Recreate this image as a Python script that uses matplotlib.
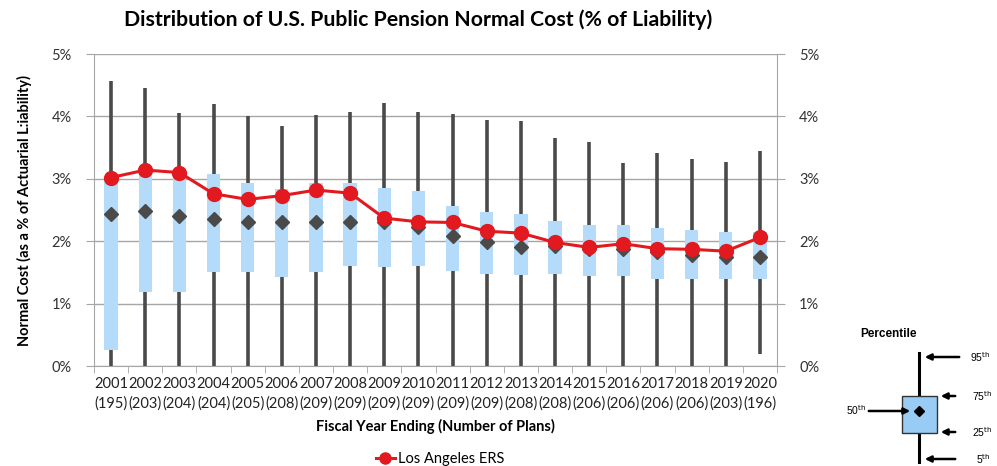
import matplotlib
matplotlib.use("Agg")
import matplotlib.pyplot as plt
from matplotlib.patches import Rectangle
from matplotlib.ticker import FuncFormatter, MultipleLocator

plt.rcParams['font.family'] = ['Lato', 'DejaVu Sans']

years = [str(y) for y in range(2001, 2021)]
n_plans = [195, 203, 204, 204, 205, 208, 209, 209, 209, 209,
           209, 209, 208, 208, 206, 206, 206, 206, 203, 196]

# percentiles, % of liability
p5 = [0.0] * 19 + [0.20]
p25 = [0.26, 1.18, 1.19, 1.51, 1.51, 1.43, 1.50, 1.60, 1.59, 1.60,
       1.53, 1.47, 1.46, 1.48, 1.45, 1.45, 1.39, 1.39, 1.39, 1.39]
p50 = [2.44, 2.49, 2.41, 2.35, 2.31, 2.31, 2.30, 2.30, 2.31, 2.23,
       2.08, 1.98, 1.91, 1.93, 1.88, 1.87, 1.83, 1.78, 1.75, 1.74]
p75 = [3.01, 3.10, 3.06, 3.08, 2.94, 2.84, 2.94, 2.93, 2.85, 2.81,
       2.56, 2.46, 2.43, 2.33, 2.26, 2.26, 2.21, 2.18, 2.15, 2.15]
p95 = [4.57, 4.46, 4.06, 4.20, 4.00, 3.84, 4.03, 4.07, 4.21, 4.07,
       4.04, 3.95, 3.92, 3.65, 3.59, 3.26, 3.41, 3.32, 3.27, 3.45]
la_ers = [3.02, 3.14, 3.10, 2.76, 2.67, 2.73, 2.82, 2.77, 2.37, 2.31,
          2.30, 2.16, 2.13, 1.98, 1.90, 1.96, 1.88, 1.87, 1.84, 2.06]

x = list(range(len(years)))
tick_labels = [f"{y}\n({n})" for y, n in zip(years, n_plans)]

fig = plt.figure(figsize=(9.97, 4.66), dpi=100)
ax = fig.add_axes([94 / 997, 1 - 366 / 466, 683 / 997, 312 / 466])

grid_c = '#a6a6a6'
ax.vlines(x, p5, p95, color='#4a4a4a', linewidth=2.6, zorder=2)
box_heights = [hi - lo for lo, hi in zip(p25, p75)]
ax.bar(x, box_heights, bottom=p25, width=0.39, color='#b4dcfa', zorder=3)
ax.plot(x, p50, linestyle='none', marker='D', markersize=7.5,
        color='#4a4a4a', zorder=4)
ax.plot(x, la_ers, color='#e2191f', linewidth=2.2, marker='o',
        markersize=10, zorder=5, label='Los Angeles ERS')

ax.set_xlim(-0.5, len(years) - 0.5)
ax.set_ylim(0, 5)
ax.yaxis.set_major_locator(MultipleLocator(1))
ax.yaxis.set_major_formatter(FuncFormatter(lambda v, p: f"{v:.0f}%"))
ax.grid(axis='y', color=grid_c, linewidth=1.0, zorder=0)
ax.set_axisbelow(True)

ax.set_xticks(x)
ax.set_xticklabels(tick_labels, fontsize=10.5, color='#222222', linespacing=1.45)
ax.set_xticks([i - 0.5 for i in range(len(years) + 1)], minor=True)
ax.tick_params(axis='x', which='major', length=0, pad=8)
ax.tick_params(axis='x', which='minor', length=5, color=grid_c, direction='out')
ax.tick_params(axis='y', length=6, color=grid_c, labelsize=10.5,
               labelcolor='#333333', pad=10, left=True, right=True,
               labelleft=True, labelright=True)

for side in ['left', 'right', 'bottom']:
    ax.spines[side].set_color(grid_c)
ax.spines['top'].set_visible(False)

ax.set_xlabel('Fiscal Year Ending (Number of Plans)', fontsize=10.5,
              fontweight='bold', labelpad=6)
ax.set_ylabel('Normal Cost (as a % of Actuarial L:iability)', fontsize=10.5,
              fontweight='bold', labelpad=14)

fig.text(418 / 997, 1 - 20 / 466,
         'Distribution of U.S. Public Pension Normal Cost (% of Liability)',
         ha='center', va='center', fontsize=15.3, fontweight='bold')

ax.legend(loc='center', bbox_to_anchor=(440 / 997, 1 - 459 / 466),
          bbox_transform=fig.transFigure, frameon=False, fontsize=10.5,
          handlelength=1.3, handletextpad=0.2, markerscale=0.8)

# percentile key, drawn in pixel coordinates
key = fig.add_axes([0, 0, 1, 1], facecolor='none')
key.set_xlim(0, 997)
key.set_ylim(466, 0)
key.axis('off')
kf = ['Liberation Sans', 'DejaVu Sans']
key.text(888, 334, 'Percentile', ha='center', va='center', fontsize=8.5,
         fontweight='bold', family=kf)
key.plot([919, 919], [353, 462], color='black', linewidth=2.2)
key.add_patch(Rectangle((902, 396), 35, 37, facecolor='#99ccf5',
                        edgecolor='#333333', linewidth=1.0, zorder=3))
key.plot([919], [411], marker='D', markersize=5, color='black', zorder=4)
arrow = dict(arrowstyle='-|>', color='black', linewidth=1.8, mutation_scale=9)
for y0, x0, x1, lab, lx in [(357, 962, 922, '95', 970), (396, 958, 938, '75', 972),
                            (432, 958, 938, '25', 972), (459, 958, 922, '5', 976)]:
    key.annotate('', xy=(x1, y0), xytext=(x0, y0), arrowprops=arrow)
    key.text(lx, y0, lab + r'$^{\rm th}$', ha='left', va='center',
             fontsize=7.5, family=kf)
key.annotate('', xy=(913, 411), xytext=(866, 411), arrowprops=arrow)
key.text(866, 410, r'50$^{\rm th}$', ha='right', va='center', fontsize=7.5,
         family=kf)

fig.savefig('out.png', dpi=100)
